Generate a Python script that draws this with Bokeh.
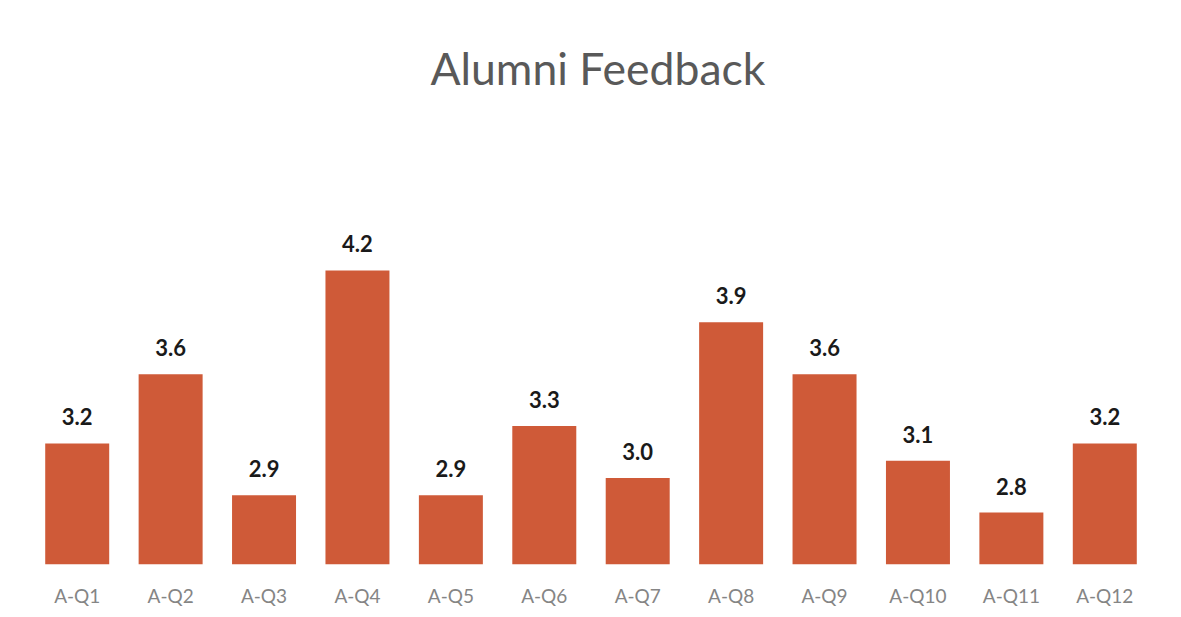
from bokeh.plotting import figure
from bokeh.models import ColumnDataSource, LabelSet, Title, Range1d
from bokeh.core.properties import value
from bokeh.embed import file_html
from bokeh.resources import INLINE

categories = ["A-Q1", "A-Q2", "A-Q3", "A-Q4", "A-Q5", "A-Q6",
              "A-Q7", "A-Q8", "A-Q9", "A-Q10", "A-Q11", "A-Q12"]
scores = [3.2, 3.6, 2.9, 4.2, 2.9, 3.3, 3.0, 3.9, 3.6, 3.1, 2.8, 3.2]

source = ColumnDataSource(data=dict(
    cat=categories,
    val=scores,
    lab=["%.1f" % v for v in scores],
))

p = figure(x_range=categories, y_range=Range1d(2.5, 4.5),
           frame_width=1121, frame_height=346, output_backend="svg",
           toolbar_location=None, min_border_left=30, min_border_right=14,
           min_border_bottom=40, min_border_top=218)

# spacer panel between the frame and the title
p.add_layout(Title(text=" ", text_font_size="1px", standoff=122), "above")
p.add_layout(Title(text="Alumni Feedback", align="left", offset=400,
                   text_font="Lato", text_font_size="44.5px",
                   text_font_style="normal", text_color="#595959",
                   standoff=0), "above")

p.vbar(x="cat", top="val", bottom=2.5, width=0.685, source=source,
       fill_color="#CF5A38", line_color=None)

labels = LabelSet(x="cat", y="val", text="lab", source=source,
                  text_align="center", text_baseline="alphabetic", y_offset=18,
                  text_font=value("Lato"), text_font_size="22px",
                  text_font_style="bold", text_color="#1a1a1a")
p.add_layout(labels)

p.xgrid.grid_line_color = None
p.ygrid.grid_line_color = None
p.yaxis.visible = False
p.xaxis.axis_line_color = None
p.xaxis.major_tick_line_color = None
p.xaxis.minor_tick_line_color = None
p.xaxis.major_tick_out = 0
p.xaxis.major_tick_in = 0
p.xaxis.axis_label_standoff = 0
p.xaxis.major_label_text_font = "Lato"
p.xaxis.major_label_text_font_size = "19px"
p.xaxis.major_label_text_color = "#858585"
p.xaxis.major_label_standoff = 19
p.outline_line_color = None
p.background_fill_color = "white"
p.border_fill_color = "white"

open("out.html", "w").write(file_html(p, INLINE))
